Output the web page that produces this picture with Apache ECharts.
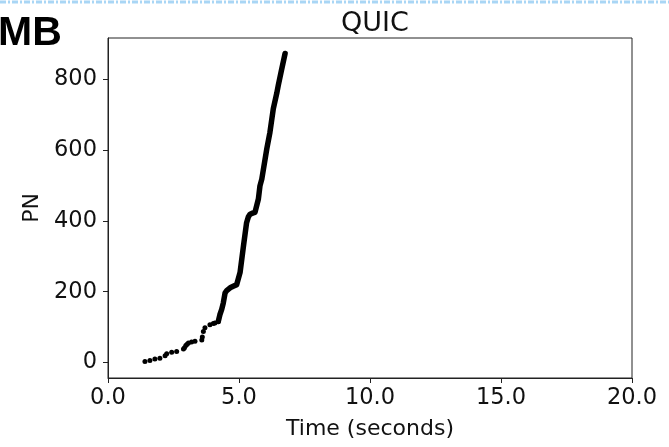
<!DOCTYPE html>
<html>
<head>
<meta charset="utf-8">
<script src="https://cdn.jsdelivr.net/npm/echarts@6/dist/echarts.min.js"></script>
<style>
html,body{margin:0;padding:0;background:#fff;}
#chart{width:669px;height:447px;}
</style>
</head>
<body>
<div id="chart"></div>
<script>
// Early, sparse packets (time in s, packet number)
const sparseTime = [1.41,1.60,1.79,1.98,2.18,2.24,2.43,2.62,2.88,2.92,2.97,3.02,3.07,3.19,3.32,3.58,3.60,3.64,3.70,3.89,4.02,4.08,4.21];
const sparsePN   = [3,6,10,12,19,25,29,31,38,42,48,52,55,58,60,64,72,88,98,107,110,112,116];
// Later, dense packets (continuous trace)
const denseTime = [4.21,4.27,4.34,4.40,4.47,4.53,4.66,4.80,4.91,5.04,5.17,5.29,5.36,5.42,5.52,5.61,5.74,5.80,5.87,6.06,6.18,6.31,6.44,6.50,6.62,6.76];
const densePN   = [116,135,150,168,197,203,211,216,220,254,329,395,412,419,422,424,462,499,518,603,650,717,760,783,825,873];
const xTicks = [0,5,10,15,20];
const yTicks = [0,200,400,600,800];
const titleText = 'QUIC';
const xLabel = 'Time (seconds)';
const yLabel = 'PN';

const sparse = sparseTime.map((t,i)=>[t,sparsePN[i]]);
const dense = denseTime.map((t,i)=>[t,densePN[i]]);
const font = 'DejaVu Sans';
const chart = echarts.init(document.getElementById('chart'), null, {renderer:'canvas'});
chart.setOption({
  animation:false,
  backgroundColor:'#fff',
  title:{text:titleText,left:370,top:5,textAlign:'center',textStyle:{fontFamily:font,fontSize:27,fontWeight:'normal',color:'#111'}},
  grid:{left:108,right:37,top:38,bottom:69,show:true,borderColor:'#222',borderWidth:1},
  xAxis:{type:'value',min:0,max:20,interval:5,
    name:xLabel,nameLocation:'middle',nameGap:40,
    nameTextStyle:{fontFamily:font,fontSize:22,color:'#111'},
    axisLine:{show:true,onZero:false,lineStyle:{color:'#222',width:1}},
    axisTick:{show:true,inside:false,length:5,lineStyle:{color:'#222'}},
    axisLabel:{margin:9,fontFamily:font,fontSize:22.5,color:'#111',formatter:v=>v.toFixed(1)},
    splitLine:{show:false}},
  yAxis:{type:'value',min:-43.6,max:916.6,
    name:yLabel,nameLocation:'middle',nameGap:58,nameRotate:90,
    nameTextStyle:{fontFamily:font,fontSize:22,color:'#111'},
    axisLine:{show:true,onZero:false,lineStyle:{color:'#222',width:1}},
    axisTick:{show:true,inside:false,length:5,customValues:yTicks,lineStyle:{color:'#222'}},
    axisLabel:{margin:11,fontFamily:font,fontSize:22.5,color:'#111',customValues:yTicks},
    splitLine:{show:false}},
  graphic:[
    {type:'text',left:-2,top:13,style:{text:'MB',fontFamily:'Liberation Sans',fontWeight:'bold',fontSize:41,fill:'#000'}},
    {type:'line',shape:{x1:0,y1:2,x2:669,y2:2},style:{stroke:'#a9d6f5',lineWidth:3,lineDash:[6,2,2,2]}}
  ],
  series:[
    {type:'scatter',data:sparse,symbol:'circle',symbolSize:5,itemStyle:{color:'#000',opacity:1}},
    {type:'line',data:dense,symbol:'none',lineStyle:{color:'#000',width:5.5,cap:'round',join:'round'}}
  ]
});
</script>
</body>
</html>
